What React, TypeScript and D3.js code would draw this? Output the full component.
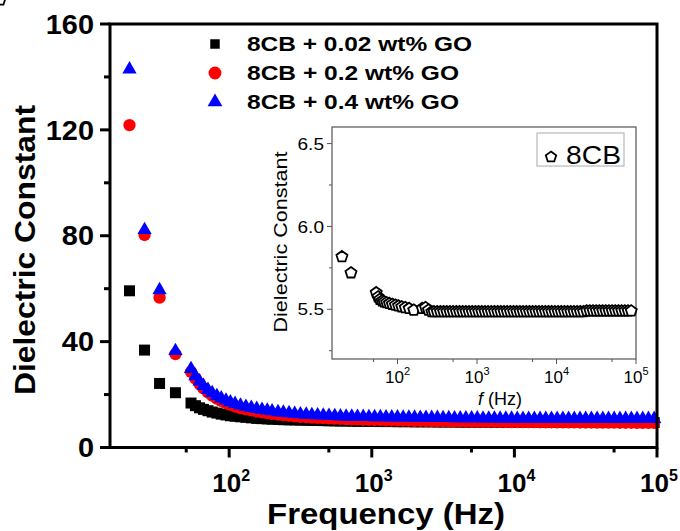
import React from "react";
import * as d3 from "d3";

// ---------- data ----------
const FREQ_LOW = [20, 25.5, 32.5, 42, 54, 58, 62, 66, 71, 76, 82, 88, 95, 102, 110, 120, 131, 143, 156, 170, 185, 200];
const FREQ_TAIL = [220, 240, 263, 288, 316, 347, 380, 417, 457, 501, 550, 603, 661, 724, 794, 871, 955,
  1047, 1148, 1259, 1380, 1514, 1660, 1820, 1995, 2188, 2399, 2630, 2884, 3162, 3467, 3802, 4169, 4571,
  5012, 5495, 6026, 6607, 7244, 7943, 8710, 9550,
  10471, 11482, 12589, 13804, 15136, 16596, 18197, 19953, 21878, 23988, 26303, 28840, 31623, 34674, 38019, 41687, 45709,
  50119, 54954, 60256, 66069, 72444, 79433, 87096, 95499];
const FREQ = [...FREQ_LOW, ...FREQ_TAIL];

const GO_002 = [59.2, 36.8, 24.2, 20.7, 16.8, 15.8, 15.0, 14.4, 13.9, 13.4, 13.0, 12.6, 12.3, 12.0, 11.8, 11.6, 11.4, 11.2, 11.0, 10.9, 10.8, 10.7,
  10.6, 10.5, 10.45, 10.4, 10.35, 10.3, 10.25, 10.2, 10.15, 10.1, 10.05, 10.0, 10.0, 9.95, 9.9, 9.9, 9.85,
  9.85, 9.8, 9.8, 9.8, 9.75, 9.75, 9.75, 9.7, 9.7, 9.7, 9.7, 9.65, 9.65, 9.65, 9.65, 9.6, 9.6,
  9.6, 9.6, 9.6, 9.6, 9.55, 9.55, 9.55, 9.55,
  9.55, 9.55, 9.55, 9.55, 9.5, 9.5, 9.5, 9.5, 9.5, 9.5, 9.5, 9.5, 9.5, 9.5, 9.5, 9.5, 9.5,
  9.5, 9.5, 9.45, 9.45, 9.45, 9.45, 9.45, 9.45];
const GO_02 = [121.8, 80.3, 56.6, 35.3, 28.6, 26.0, 24.0, 22.3, 20.8, 19.6, 18.5, 17.6, 16.8, 16.1, 15.5, 14.9, 14.4, 14.0, 13.6, 13.3, 13.0, 12.7,
  12.4, 12.2, 12.0, 11.8, 11.6, 11.45, 11.3, 11.2, 11.1, 11.0, 10.9, 10.8, 10.7, 10.65, 10.6, 10.5, 10.45,
  10.4, 10.35, 10.3, 10.3, 10.25, 10.2, 10.15, 10.1, 10.1, 10.05, 10.0, 10.0, 9.95, 9.9, 9.9, 9.85, 9.85,
  9.8, 9.8, 9.75, 9.75, 9.7, 9.7, 9.7, 9.65,
  9.65, 9.6, 9.6, 9.6, 9.55, 9.55, 9.55, 9.5, 9.5, 9.5, 9.5, 9.45, 9.45, 9.45, 9.4, 9.4, 9.4,
  9.4, 9.35, 9.35, 9.35, 9.3, 9.3, 9.3, 9.3];
const GO_04 = [142.9, 82.2, 59.5, 36.5, 29.7, 27.0, 25.0, 23.3, 21.8, 20.6, 19.5, 18.6, 17.8, 17.1, 16.5, 15.9, 15.4, 15.0, 14.6, 14.3, 14.0, 13.7,
  13.4, 13.2, 13.0, 12.8, 12.6, 12.45, 12.3, 12.2, 12.1, 12.0, 11.9, 11.8, 11.75, 11.7, 11.65, 11.6, 11.55,
  11.5, 11.5, 11.45, 11.4, 11.4, 11.35, 11.3, 11.3, 11.25, 11.25, 11.2, 11.2, 11.15, 11.15, 11.1, 11.1, 11.1,
  11.05, 11.05, 11.0, 11.0, 11.0, 10.95, 10.95, 10.95,
  10.9, 10.9, 10.9, 10.9, 10.9, 10.9, 10.9, 10.9, 10.9, 10.9, 10.9, 10.9, 10.9, 10.9, 10.9, 10.9, 10.9,
  10.85, 10.85, 10.85, 10.85, 10.85, 10.85, 10.85, 10.85];

const INSET_FREQ_LOW = [20, 26, 54, 57, 60, 64, 68, 73, 79, 86, 94, 103, 113, 125, 140, 160, 205, 225, 245, 270];
const INSET_FREQ = [...INSET_FREQ_LOW, ...FREQ_TAIL.slice(3)];
const PURE_8CB = [5.817, 5.72, 5.60, 5.575, 5.56, 5.55, 5.545, 5.54, 5.535, 5.53, 5.525, 5.52, 5.515, 5.51, 5.505, 5.495, 5.505, 5.51, 5.495, 5.485,
  5.485, 5.485, 5.485, 5.485, 5.485, 5.485, 5.485, 5.485, 5.485, 5.485, 5.485, 5.485, 5.485, 5.485,
  5.485, 5.485, 5.485, 5.485, 5.485, 5.485, 5.485, 5.485, 5.485, 5.485, 5.485, 5.485, 5.485, 5.485, 5.485, 5.485,
  5.485, 5.485, 5.485, 5.485, 5.485, 5.485, 5.485, 5.485, 5.485, 5.485, 5.485, 5.485, 5.485, 5.485, 5.485, 5.485,
  5.485, 5.485, 5.49, 5.49, 5.49, 5.49, 5.49, 5.49, 5.49, 5.49, 5.49, 5.49, 5.49, 5.49, 5.49, 5.49, 5.49];

const Y_TICKS = [0, 40, 80, 120, 160];
const Y_MINOR = [20, 60, 100, 140];
const X_TICKS = [100, 1000, 10000, 100000];
const X_TICK_EXP = ["2", "3", "4", "5"];
const X_MINOR = [50, 500, 5000, 50000];
const INSET_Y_TICKS = [5.5, 6.0, 6.5];
const INSET_Y_MINOR = [5.25, 5.75, 6.25];
const SERIES_LABELS = ["8CB + 0.02 wt% GO", "8CB + 0.2 wt% GO", "8CB + 0.4 wt% GO"];

const FONT = "'Liberation Sans', Arial, Helvetica, sans-serif";

// ---------- scales ----------
const x = d3.scaleLog().domain([14.6, 1e5]).range([110, 657]);
const y = d3.scaleLinear().domain([0, 160]).range([447.5, 24]);
const ix = d3.scaleLog().domain([15.0, 1e5]).range([332, 636]);
const iy = d3.scaleLinear().domain([5.2, 6.6]).range([359, 127]);

const squarePath = d3.symbol().type(d3.symbolSquare).size(121)()!;
const circlePath = d3.symbol().type(d3.symbolCircle).size(120)()!;
const trianglePath = d3.symbol().type(d3.symbolTriangle).size(88)()!;
const pentagonPath = (r: number) =>
  d3.line()(d3.range(5).map((i) => {
    const a = -Math.PI / 2 + (i * 2 * Math.PI) / 5;
    return [r * Math.cos(a), r * Math.sin(a)] as [number, number];
  }))! + "Z";

const SERIES = [
  { values: GO_002, path: squarePath, color: "#000000" },
  { values: GO_02, path: circlePath, color: "#ff0000" },
  { values: GO_04, path: trianglePath, color: "#0000ff" },
];

export default function App() {
  const pent = pentagonPath(5.8);
  return (
    <svg width={680} height={531} style={{ position: "absolute", left: 0, top: 0, background: "#fff" }} fontFamily={FONT}>
      <rect x={0} y={0} width={680} height={531} fill="#fff" />
      {/* main data */}
      {SERIES.map((s, si) => (
        <g key={si} fill={s.color}>
          {FREQ.map((f, i) => (
            <path key={i} d={s.path} transform={`translate(${x(f)},${y(s.values[i])})`} />
          ))}
        </g>
      ))}
      {/* main frame */}
      <g stroke="#000" strokeWidth={3} fill="none">
        <rect x={x.range()[0]} y={y.range()[1]} width={x.range()[1] - x.range()[0]} height={y.range()[0] - y.range()[1]} />
        {Y_TICKS.map((t) => <line key={t} x1={x.range()[0]} x2={x.range()[0] - 10} y1={y(t)} y2={y(t)} />)}
        {Y_MINOR.map((t) => <line key={t} x1={x.range()[0]} x2={x.range()[0] - 6} y1={y(t)} y2={y(t)} />)}
        {X_TICKS.map((t) => <line key={t} x1={x(t)} x2={x(t)} y1={y.range()[0]} y2={y.range()[0] + 10} />)}
        {X_MINOR.map((t) => <line key={t} x1={x(t)} x2={x(t)} y1={y.range()[0]} y2={y.range()[0] + 5} />)}
      </g>
      <g fontWeight="bold" fontSize={27} fill="#000">
        {Y_TICKS.map((t) => (
          <text key={t} transform={`translate(94,${y(t)}) scale(1.07,1)`} dy="0.36em" textAnchor="end">{t}</text>
        ))}
        {X_TICKS.map((t, i) => (
          <text key={t} x={x(t) + 2} y={492} textAnchor="middle" fontSize={26}>
            10<tspan fontSize={16} dy={-11}>{X_TICK_EXP[i]}</tspan>
          </text>
        ))}
      </g>
      <text x={386} y={524} textAnchor="middle" fontWeight="bold" fontSize={29} textLength={238} lengthAdjust="spacingAndGlyphs">Frequency (Hz)</text>
      <text transform="translate(35,250) rotate(-90)" textAnchor="middle" fontWeight="bold" fontSize={29} textLength={290} lengthAdjust="spacingAndGlyphs">Dielectric Constant</text>

      {/* main legend */}
      <g>
        {SERIES.map((s, i) => (
          <g key={i} transform={`translate(0,${44 + i * 29})`}>
            <path d={i === 0 ? d3.symbol().type(d3.symbolSquare).size(90)()! : i === 1 ? d3.symbol().type(d3.symbolCircle).size(130)()! : d3.symbol().type(d3.symbolTriangle).size(95)()!}
              transform="translate(215,0)" fill={s.color} />
            <text x={247} y={6.5} fontWeight="bold" fontSize={20} textLength={i === 0 ? 225 : 212} lengthAdjust="spacingAndGlyphs">{SERIES_LABELS[i]}</text>
          </g>
        ))}
      </g>

      {/* inset */}
      <g>
        <rect x={ix.range()[0]} y={iy.range()[1]} width={ix.range()[1] - ix.range()[0]} height={iy.range()[0] - iy.range()[1]} fill="#fff" stroke="#555" strokeWidth={1.2} />
        <g stroke="#555" strokeWidth={1}>
          {INSET_Y_TICKS.map((t) => <line key={t} x1={ix.range()[0]} x2={ix.range()[0] - 5} y1={iy(t)} y2={iy(t)} />)}
          {INSET_Y_MINOR.map((t) => <line key={t} x1={ix.range()[0]} x2={ix.range()[0] - 3} y1={iy(t)} y2={iy(t)} />)}
          {X_TICKS.map((t) => <line key={t} x1={ix(t)} x2={ix(t)} y1={iy.range()[0]} y2={iy.range()[0] + 5} />)}
          {X_MINOR.map((t) => <line key={t} x1={ix(t)} x2={ix(t)} y1={iy.range()[0]} y2={iy.range()[0] + 3} />)}
        </g>
        <g fontSize={17} fill="#000">
          {INSET_Y_TICKS.map((t) => (
            <text key={t} transform={`translate(324,${iy(t)}) scale(1.12,1)`} dy="0.36em" textAnchor="end">{t.toFixed(1)}</text>
          ))}
          {X_TICKS.map((t, i) => (
            <text key={t} x={ix(t)} y={383} textAnchor="middle">
              10<tspan fontSize={11} dy={-8}>{X_TICK_EXP[i]}</tspan>
            </text>
          ))}
        </g>
        <text x={500} y={405} textAnchor="middle" fontSize={18}>
          <tspan fontStyle="italic">f</tspan> (Hz)
        </text>
        <text transform="translate(287,242) rotate(-90)" textAnchor="middle" fontSize={18} textLength={181} lengthAdjust="spacingAndGlyphs">Dielectric Constant</text>
        <g fill="#fff" stroke="#000" strokeWidth={1.8}>
          {INSET_FREQ.map((f, i) => (
            <path key={i} d={pent} transform={`translate(${ix(f)},${iy(PURE_8CB[i])})`} />
          ))}
        </g>
        <rect x={537} y={133} width={87} height={33} fill="#fff" stroke="#aaa" strokeWidth={1} />
        <path d={pentagonPath(5.5)} transform="translate(551,157)" fill="#fff" stroke="#000" strokeWidth={1.8} />
        <text x={566} y={164} fontSize={25} textLength={55} lengthAdjust="spacingAndGlyphs">8CB</text>
      </g>
    </svg>
  );
}
